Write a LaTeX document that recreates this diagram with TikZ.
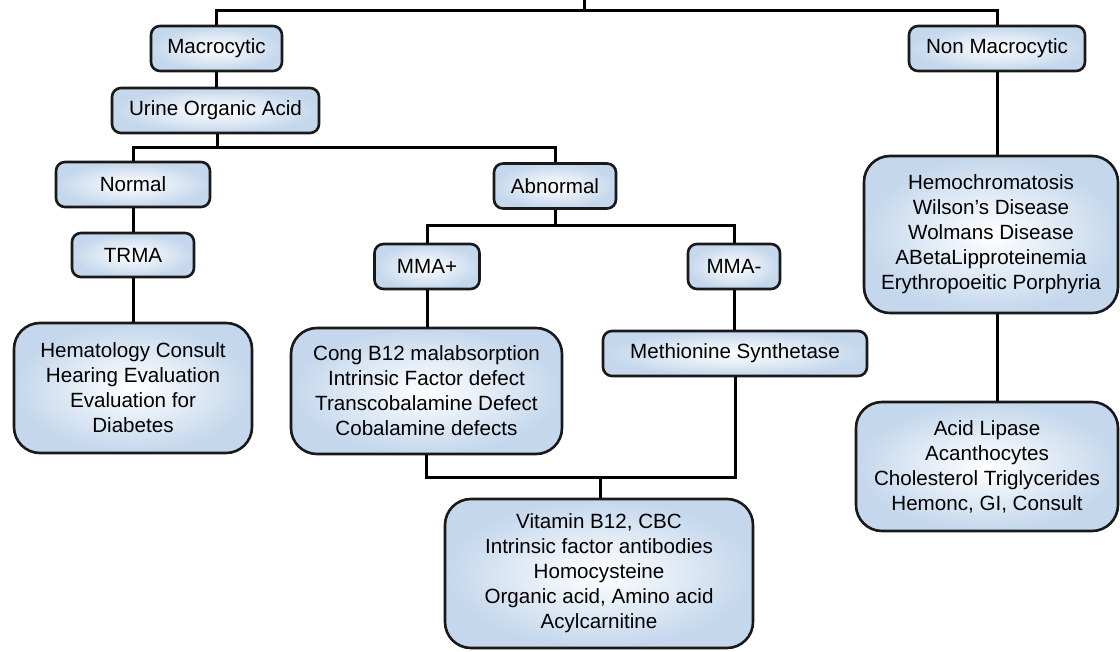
\documentclass[tikz,border=0pt]{standalone}
\usepackage{fontspec}
\setmainfont{Liberation Sans}
\definecolor{boxblue}{RGB}{196,215,236}
\definecolor{edge}{RGB}{25,25,25}
\tikzset{
  box/.style={draw=edge, line width=2.6pt, shading=radial, inner color=white, outer color=boxblue,
    align=center, inner sep=0pt, font=\fontsize{20.6}{25}\selectfont},
  smallbox/.style={box, rounded corners=9pt},
  bigbox/.style={box, rounded corners=26pt},
  conn/.style={draw=black, line width=3pt},
}
\begin{document}
\begin{tikzpicture}[x=1pt,y=-1pt]
\useasboundingbox (0,0) rectangle (1120,652);
% nodes
\node[smallbox, minimum width=131pt, minimum height=45pt] (mac) at (216.5,48.5) {Macrocytic};
\node[smallbox, minimum width=176pt, minimum height=45pt] (nonmac) at (997,48.5) {Non Macrocytic};
\node[smallbox, minimum width=207pt, minimum height=45pt] (urine) at (215.5,110.5) {Urine Organic Acid};
\node[smallbox, minimum width=154pt, minimum height=45pt] (normal) at (133,184.5) {Normal};
\node[smallbox, minimum width=122pt, minimum height=45pt] (abnormal) at (555,186) {Abnormal};
\node[smallbox, minimum width=122pt, minimum height=44pt] (trma) at (133,255) {TRMA};
\node[smallbox, minimum width=105pt, minimum height=45pt] (mmap) at (427,266.5) {MMA+};
\node[smallbox, minimum width=92pt, minimum height=45pt] (mmam) at (734,266.5) {MMA-};
\node[smallbox, minimum width=264pt, minimum height=45pt] (meth) at (735,353.5) {Methionine Synthetase};
\node[bigbox, minimum width=238pt, minimum height=130pt] (hema) at (133,388)
  {Hematology Consult\\Hearing Evaluation\\Evaluation for\\Diabetes};
\node[bigbox, minimum width=271pt, minimum height=126pt] (cong) at (426.5,391)
  {Cong B12 malabsorption\\Intrinsic Factor defect\\Transcobalamine Defect\\Cobalamine defects};
\node[bigbox, minimum width=308pt, minimum height=149pt] (vit) at (599,573.5)
  {Vitamin B12, CBC\\Intrinsic factor antibodies\\Homocysteine\\Organic acid, Amino acid\\Acylcarnitine};
\node[bigbox, minimum width=254pt, minimum height=157pt] (hemo) at (991,234.5)
  {Hemochromatosis\\Wilson’s Disease\\Wolmans Disease\\ABetaLipproteinemia\\Erythropoeitic Porphyria};
\node[bigbox, minimum width=262pt, minimum height=129pt] (acid) at (987,466.5)
  {Acid Lipase\\Acanthocytes\\Cholesterol Triglycerides\\Hemonc, GI, Consult};
% junction coordinates
\coordinate (top) at (584,0);
\coordinate (j0) at (584,11);
\coordinate (j1) at (217,148);
\coordinate (j2) at (555,226);
\coordinate (j3) at (600,477);
% connectors
\draw[conn] (top) -- (j0);
\draw[conn] (mac.north) -- (mac.north |- j0) -- (nonmac.north |- j0) -- (nonmac.north);
\draw[conn] (mac.south) -- (urine.north -| mac.south);
\draw[conn] (urine.south -| j1) -- (j1);
\draw[conn] (normal.north) -- (normal.north |- j1) -- (abnormal.north |- j1) -- (abnormal.north);
\draw[conn] (normal.south) -- (trma.north -| normal.south);
\draw[conn] (trma.south) -- (hema.north -| trma.south);
\draw[conn] (abnormal.south) -- (j2);
\draw[conn] (mmap.north) -- (mmap.north |- j2) -- (mmam.north |- j2) -- (mmam.north);
\draw[conn] (mmap.south) -- (cong.north -| mmap.south);
\draw[conn] (mmam.south) -- (meth.north -| mmam.south);
\draw[conn] (cong.south) -- (cong.south |- j3) -- (meth.south |- j3) -- (meth.south);
\draw[conn] (j3) -- (vit.north -| j3);
\draw[conn] (nonmac.south) -- (hemo.north -| nonmac.south);
\draw[conn] (hemo.south -| nonmac.south) -- (acid.north -| nonmac.south);
\end{tikzpicture}
\end{document}
